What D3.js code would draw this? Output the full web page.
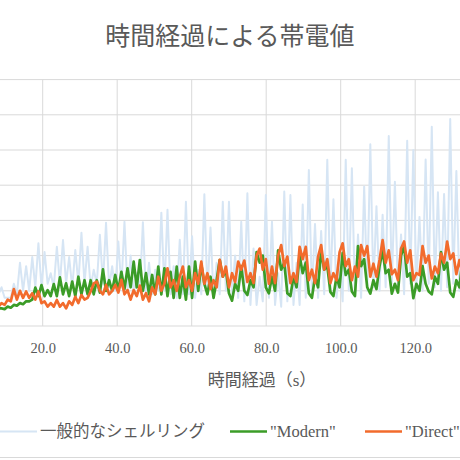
<!DOCTYPE html>
<html>
<head>
<meta charset="utf-8">
<script src="https://cdn.jsdelivr.net/npm/d3@7"></script>
<style>
  body { margin: 0; background: #fff; }
  svg { display: block; }
</style>
</head>
<body>
<svg id="chart"></svg>
<script>
// samples every 0.825 s starting at 7.3 s
const startTime = 7.3;
const sampleStep = 0.825;

const shellingValues = [
  12, 9, 11, 8, 8, 8, 12, 9, 18, 10,
  17, 10, 19.6, 11, 23.5, 11, 21, 12, 15, 11,
  22.5, 12, 24.4, 12, 19.6, 11, 21.6, 12, 26.5, 12,
  22.5, 11, 16, 12, 25.9, 12, 29.3, 11, 17, 10,
  24, 11, 29.6, 10, 20, 9, 15, 10, 29.5, 9,
  18, 9, 16, 10, 32.2, 10, 33, 9, 17, 8,
  24.5, 9, 35.3, 9, 25.5, 8, 16, 9, 37.4, 9,
  28, 8, 18, 9, 35.3, 10, 35.3, 9, 20, 8,
  29.6, 7, 37.7, 6, 22, 6, 14, 7, 37.2, 8,
  29.6, 6, 15, 5.5, 38.2, 7, 37.2, 6, 18, 6,
  34.5, 8, 44.3, 9, 29, 8, 27, 9, 47.2, 10,
  36, 8, 18, 7, 47.2, 10, 44.8, 9, 26, 8,
  39.6, 10, 51.6, 11, 34, 10, 31.6, 11, 54, 12,
  41, 10, 26, 9, 52.6, 12, 50, 11, 31, 10,
  47.3, 12, 56.6, 11, 38, 10, 37.5, 11, 58.8, 12,
  44, 10, 30, 11, 50
];

const modernValues = [
  5.5, 5, 5, 4.8, 5.5, 5.2, 6, 5.8, 6.5, 6.2,
  7, 7, 7.5, 10.9, 8.5, 11.6, 8.5, 10.2, 8.5, 11.9,
  8.5, 13.8, 9, 12.1, 8.5, 12.6, 8.5, 14, 9, 13,
  9, 13, 9, 13, 9.5, 16.1, 10, 13, 10, 14.5,
  10, 15.4, 10.5, 16.4, 11, 18.3, 11, 18.75, 10, 15,
  9, 14.5, 9, 16.9, 9, 16.4, 8.5, 15.4, 8, 16.9,
  8, 14, 7.5, 16.9, 8, 18.3, 10, 17.5, 12, 9,
  14, 8, 13, 18.75, 14, 15.9, 9.3, 7.2, 12, 10,
  17, 10, 8.8, 13, 11, 21, 18, 20, 11, 9.3,
  14, 10, 21.5, 16, 18, 9.3, 8.5, 14, 11, 20,
  15, 18, 9.3, 8, 14, 11, 21.5, 16, 17, 9.7,
  8.5, 14, 11, 20.8, 14.5, 16, 9.8, 8.5, 22.7, 17,
  19, 11, 9.2, 13, 10.5, 17, 21.5, 15, 16, 9.2,
  12, 9.5, 20, 22.7, 14, 15, 7.9, 12, 10, 17,
  12, 9.8, 9, 14, 12, 21, 16, 18, 9.5, 8.3,
  13, 11, 19, 16, 12
];

const directValues = [
  6, 5.5, 6.5, 6, 7.5, 7, 10.5, 7.5, 10, 8,
  9.8, 8, 9.3, 7.5, 9.8, 6.5, 7, 5.5, 6.5, 5.5,
  7.4, 5.5, 6.5, 5, 7, 6, 8.3, 6.5, 8.8, 7.5,
  8, 9.8, 12.1, 12.6, 10, 9, 11.7, 9, 10, 11.7,
  9.5, 13.1, 9, 10.2, 7.5, 10.2, 8.5, 11.5, 7.5, 9.3,
  7, 11, 9, 14, 10, 12, 16.4, 11, 13, 10,
  14, 16.9, 11, 13, 10, 15, 12, 18.3, 12, 15,
  10.5, 13, 11, 18.8, 14, 16.9, 11, 15, 12.5, 18.3,
  16, 18.6, 12.5, 15, 12.2, 20, 22, 16, 19, 12,
  16.9, 12.2, 20, 23, 17, 19.7, 12.2, 15, 12.5, 22.5,
  19, 22.5, 13, 16, 12.2, 19.7, 23, 16, 19, 12.2,
  15, 13, 21, 23.5, 17, 19, 13, 16.9, 14, 23,
  20, 22.7, 14, 17.7, 14, 18.75, 24.4, 18, 21.5, 14.7,
  16, 13, 22, 24, 18, 21.5, 13, 15, 14.5, 22.7,
  18, 20, 13.5, 16.9, 15, 20.6, 18, 24, 19, 20.6,
  14.7, 18.75, 15, 19, 21
];

const xTicks = [20, 40, 60, 80, 100, 120];
const yTicks = [0, 10, 20, 30, 40, 50, 60, 70];
const seriesNames = ["一般的なシェルリング", "\"Modern\"", "\"Direct\""];
const seriesColors = ["#d6e5f4", "#3b9c27", "#f26b2c"];

const width = 460;
const height = 460;
const textColor = "#595959";
const gridColor = "#d9d9d9";
const fontFamily = "'Liberation Serif', 'Noto Sans CJK JP', serif";

const svg = d3.select("#chart").attr("width", width).attr("height", height);

// the plot area is wider than the window: the y axis sits off to the left
const xScale = d3.scaleLinear().domain([0, 160]).range([-31.8, 564.2]);
const yScale = d3.scaleLinear().domain([0, 70]).range([326, 79.6]);

svg.append("rect").attr("width", width).attr("height", height).attr("fill", "#fff");

// grid
svg
  .append("g")
  .selectAll("line")
  .data(yTicks)
  .join("line")
  .attr("x1", xScale.range()[0])
  .attr("x2", xScale.range()[1])
  .attr("y1", (d) => yScale(d))
  .attr("y2", (d) => yScale(d))
  .attr("stroke", gridColor)
  .attr("stroke-width", 1);

svg
  .append("g")
  .selectAll("line")
  .data(xTicks)
  .join("line")
  .attr("x1", (d) => xScale(d))
  .attr("x2", (d) => xScale(d))
  .attr("y1", yScale(70))
  .attr("y2", yScale(0))
  .attr("stroke", gridColor)
  .attr("stroke-width", 1);

// x axis
const xAxis = svg
  .append("g")
  .attr("transform", `translate(0,${yScale(0)})`)
  .call(
    d3.axisBottom(xScale)
      .tickValues(xTicks)
      .tickSize(0)
      .tickPadding(16.5)
      .tickFormat(d3.format(".1f"))
  );
xAxis.select(".domain").remove();
xAxis
  .selectAll("text")
  .attr("fill", textColor)
  .style("font-family", fontFamily)
  .style("font-size", "14.5px");

// lines
const line = d3
  .line()
  .x((d, i) => xScale(startTime + i * sampleStep))
  .y((d) => yScale(d));

const series = [shellingValues, modernValues, directValues];
const widths = [2, 2.7, 2.7];

series.forEach((values, s) => {
  svg
    .append("path")
    .datum(values)
    .attr("fill", "none")
    .attr("stroke", seriesColors[s])
    .attr("stroke-width", widths[s])
    .attr("stroke-linejoin", "round")
    .attr("d", line);
});

// title
svg
  .append("text")
  .attr("x", 230)
  .attr("y", 45)
  .attr("text-anchor", "middle")
  .attr("fill", textColor)
  .style("font-family", fontFamily)
  .style("font-size", "25px")
  .text("時間経過による帯電値");

// x axis title
svg
  .append("text")
  .attr("x", 262)
  .attr("y", 386)
  .attr("text-anchor", "middle")
  .attr("fill", textColor)
  .style("font-family", fontFamily)
  .style("font-size", "17px")
  .text("時間経過（s）");

// legend
const legendX = [0, 230, 365];
const legend = svg
  .append("g")
  .selectAll("g")
  .data(seriesNames)
  .join("g")
  .attr("transform", (d, i) => `translate(${legendX[i]},431.5)`);

legend
  .append("line")
  .attr("x1", 0)
  .attr("x2", 37)
  .attr("stroke", (d, i) => seriesColors[i])
  .attr("stroke-width", (d, i) => (i === 0 ? 2 : 2.7));

legend
  .append("text")
  .attr("x", 40)
  .attr("y", 5.5)
  .attr("fill", textColor)
  .style("font-family", fontFamily)
  .style("font-size", "16.5px")
  .text((d) => d);

// chart border (only the bottom edge shows)
svg
  .append("line")
  .attr("x1", 0)
  .attr("x2", width)
  .attr("y1", 457.5)
  .attr("y2", 457.5)
  .attr("stroke", gridColor)
  .attr("stroke-width", 1.2);
</script>
</body>
</html>
